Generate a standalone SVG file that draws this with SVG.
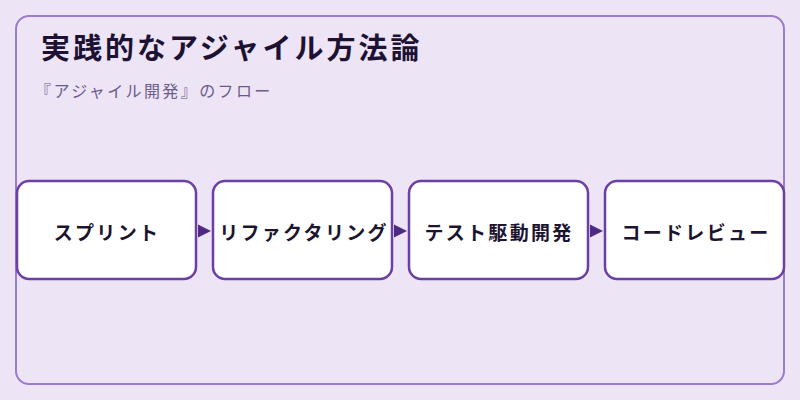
<svg xmlns="http://www.w3.org/2000/svg" width="800" height="400" viewBox="0 0 800 400">
<defs>
<style>
.frame{fill:#ede5f5;stroke:#9b7ccf;stroke-width:2}
.node rect{fill:#ffffff;stroke:#6b3fa3;stroke-width:2.5}
.node text{font-family:"Noto Sans CJK JP","Noto Sans",sans-serif;font-size:19px;font-weight:700;fill:#1d1530;letter-spacing:2.3px;text-anchor:middle;dominant-baseline:central}
.title{font-family:"Noto Sans CJK JP","Noto Sans",sans-serif;font-size:29px;font-weight:700;fill:#1d1233;letter-spacing:3px}
.sub{font-family:"Noto Sans CJK JP","Noto Sans",sans-serif;font-size:16px;fill:#6b5a8c;letter-spacing:2.4px}
.edge{stroke:#4e2a85;stroke-width:2;fill:none}
</style>
<marker id="arr" viewBox="0 0 10 10" refX="10" refY="5" markerWidth="13" markerHeight="14" markerUnits="userSpaceOnUse" orient="auto">
<path d="M0,0 L10,5 L0,10 z" fill="#4e2a85"/>
</marker>
</defs>
<rect width="800" height="400" fill="#ede5f5"/>
<rect class="frame" x="16" y="16" width="768" height="368" rx="13"/>
<text class="title" x="41" y="59">実践的なアジャイル方法論</text>
<text class="sub" x="35" y="97">『アジャイル開発』のフロー</text>
<g id="connectors">
<line class="edge" x1="197" y1="231" x2="211" y2="231" marker-end="url(#arr)" stroke-opacity="0"/>
<line class="edge" x1="393" y1="231" x2="407" y2="231" marker-end="url(#arr)" stroke-opacity="0"/>
<line class="edge" x1="589" y1="231" x2="603" y2="231" marker-end="url(#arr)" stroke-opacity="0"/>
</g>
<g id="n1" class="node"><rect x="17" y="181" width="179" height="98" rx="12"/><text x="107" y="231">スプリント</text></g>
<g id="n2" class="node"><rect x="213" y="181" width="179" height="98" rx="12"/><text x="304" y="231">リファクタリング</text></g>
<g id="n3" class="node"><rect x="409" y="181" width="179" height="98" rx="12"/><text x="499" y="231">テスト駆動開発</text></g>
<g id="n4" class="node"><rect x="605" y="181" width="179" height="98" rx="12"/><text x="696" y="231">コードレビュー</text></g>
</svg>
